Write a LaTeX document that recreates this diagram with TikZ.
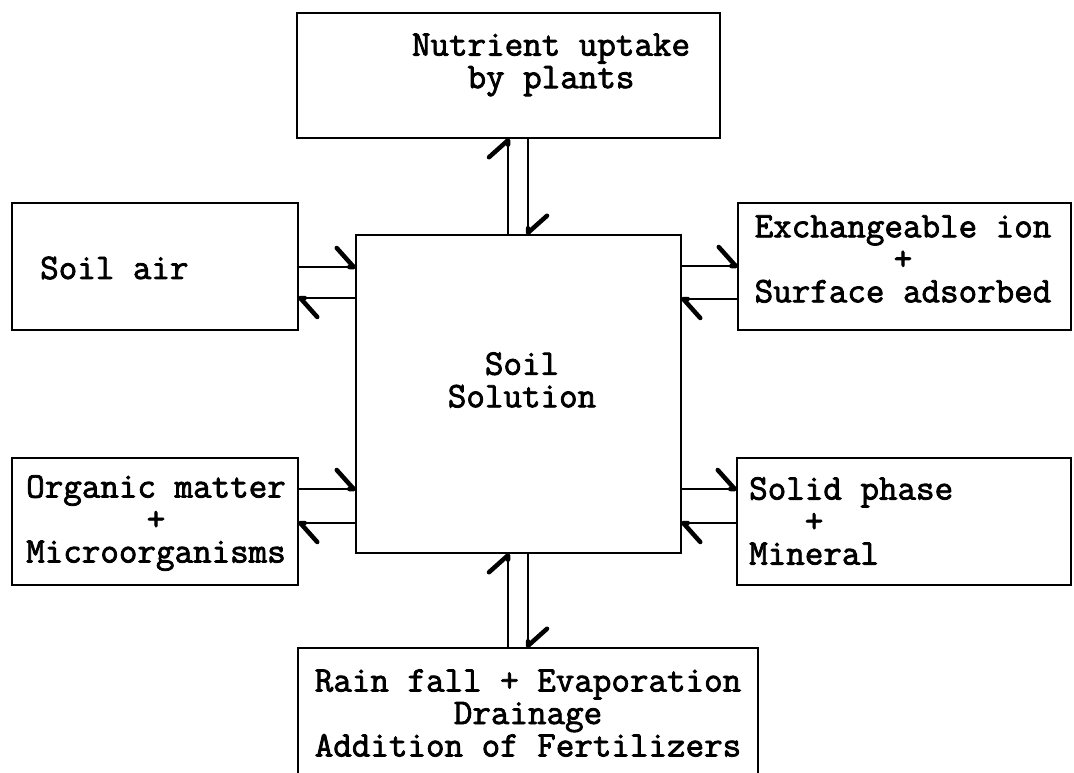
\documentclass[tikz,border=0pt]{standalone}
\usepackage{fontspec}
\setmonofont{Latin Modern Mono}[AutoFakeBold=2.2]
\usetikzlibrary{arrows.meta}
\tikzset{
  box/.style={draw, line width=2.4pt, inner sep=0pt, outer sep=0pt},
  lbl/.style={font=\ttfamily\bfseries\fontsize{36}{32.5}\selectfont, inner sep=0pt},
  harp/.style={line width=2pt, -{Straight Barb[left,length=17pt,width=38pt,line width=4.5pt,round]}}
}
\begin{document}
\begin{tikzpicture}[x=1pt,y=-1pt]
\useasboundingbox (0,0) rectangle (1074,773);
\clip (0,0) rectangle (1074,773);
% boxes
\node[box, minimum width=423pt, minimum height=125pt] (top) at (508.5,75.5) {};
\node[box, minimum width=325pt, minimum height=318pt] (ctr) at (518.5,394) {};
\node[box, minimum width=286pt, minimum height=127pt] (air) at (155,266.5) {};
\node[box, minimum width=333pt, minimum height=127pt] (exc) at (904.5,266.5) {};
\node[box, minimum width=286pt, minimum height=127pt] (org) at (155,521.5) {};
\node[box, minimum width=334pt, minimum height=127pt] (sol) at (904,521.5) {};
\node[box, minimum width=460pt, minimum height=142pt] (bot) at (528,719) {};
% texts
\node[lbl, align=center] (ttop) at (551,65) {Nutrient uptake\\by plants};
\node[lbl, anchor=west] (tair) at (40,268) {Soil air};
\node[lbl, align=center] (tctr) at (522,380) {Soil\\Solution};
\node[lbl, align=center] (texc) at (903,259) {Exchangeable ion\\+\\Surface adsorbed};
\node[lbl, align=center] (torg) at (156,523) {Organic matter\\+\\Microorganisms};
\node[lbl, align=left, anchor=west] (tsol) at (749,521) {Solid phase\\\ \ \ +\\Mineral};
\node[lbl, align=center] (tbot) at (528,713) {Rain fall + Evaporation\\Drainage\\Addition of Fertilizers};
% levels
\coordinate (ya) at (0,267);
\coordinate (yb) at (0,298);
\coordinate (yc) at (0,266);
\coordinate (yd) at (0,299);
\coordinate (ye) at (0,489);
\coordinate (yf) at (0,523);
\coordinate (xa) at (508,0);
\coordinate (xb) at (528,0);
% connectors
\draw[harp] (air.east |- ya) -- (ctr.west |- ya);
\draw[harp] (ctr.west |- yb) -- (air.east |- yb);
\draw[harp] (ctr.east |- yc) -- (exc.west |- yc);
\draw[harp] (exc.west |- yd) -- (ctr.east |- yd);
\draw[harp] (org.east |- ye) -- (ctr.west |- ye);
\draw[harp] (ctr.west |- yf) -- (org.east |- yf);
\draw[harp] (ctr.east |- ye) -- (sol.west |- ye);
\draw[harp] (sol.west |- yf) -- (ctr.east |- yf);
\draw[harp] (ctr.north -| xa) -- (top.south -| xa);
\draw[harp] (top.south -| xb) -- (ctr.north -| xb);
\draw[harp] (bot.north -| xa) -- (ctr.south -| xa);
\draw[harp] (ctr.south -| xb) -- (bot.north -| xb);
\end{tikzpicture}
\end{document}
